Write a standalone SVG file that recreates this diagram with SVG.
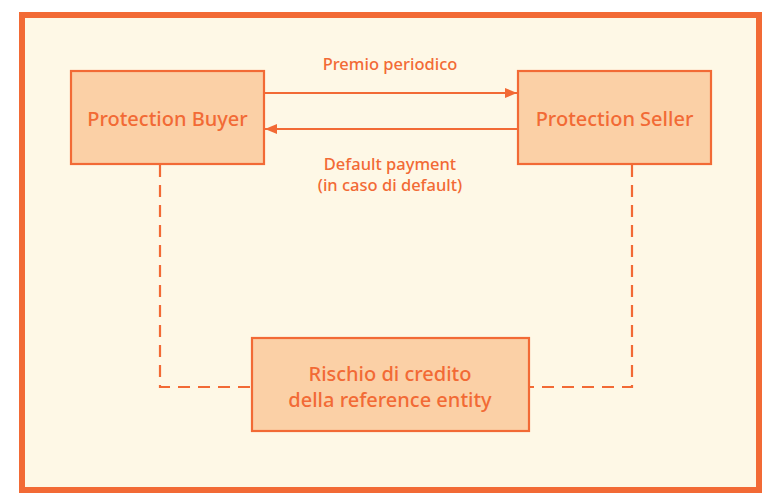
<svg xmlns="http://www.w3.org/2000/svg" width="777" height="498" viewBox="0 0 777 498">
<defs>
<style>
.box{fill:#FBD0A6;stroke:#F26A35;stroke-width:2.2}
.t{font-family:"Noto Sans","Liberation Sans",sans-serif;fill:#F26A35;text-anchor:middle;font-weight:500}
.big{font-size:20px}
.lab{font-size:16.5px}
.ln{stroke:#F26A35;stroke-width:2.2;fill:none}
.dash{stroke:#F26A35;stroke-width:2.2;fill:none;stroke-dasharray:12 8}
</style>
<marker id="ah" viewBox="0 0 12 10" refX="12" refY="5" markerWidth="12" markerHeight="10" markerUnits="userSpaceOnUse" orient="auto">
<path d="M0,0 L12,5 L0,10 Z" fill="#F26A35"/>
</marker>
</defs>
<rect x="0" y="0" width="777" height="498" fill="#FFFFFF"/>
<rect x="22" y="15" width="737" height="475" fill="#FEF8E6" stroke="#F26A35" stroke-width="6"/>
<g id="connectors">
<line class="ln" x1="264" y1="93" x2="517" y2="93" marker-end="url(#ah)"/>
<line class="ln" x1="518" y1="129" x2="265" y2="129" marker-end="url(#ah)"/>
<polyline class="dash" points="160,165 160,387 252,387"/>
<polyline class="dash" points="632,165 632,387 529,387"/>
<text class="t lab" x="390" y="70">Premio periodico</text>
<text class="t lab" x="390" y="170">Default payment</text>
<text class="t lab" x="390" y="191">(in caso di default)</text>
</g>
<g id="buyer">
<rect class="box" x="71" y="71" width="193" height="93"/>
<text class="t big" x="167.5" y="126">Protection Buyer</text>
</g>
<g id="seller">
<rect class="box" x="518" y="71" width="193" height="93"/>
<text class="t big" x="614.5" y="126">Protection Seller</text>
</g>
<g id="risk">
<rect class="box" x="252" y="338" width="277" height="93"/>
<text class="t big" x="390" y="381">Rischio di credito</text>
<text class="t big" x="390" y="407">della reference entity</text>
</g>
</svg>
